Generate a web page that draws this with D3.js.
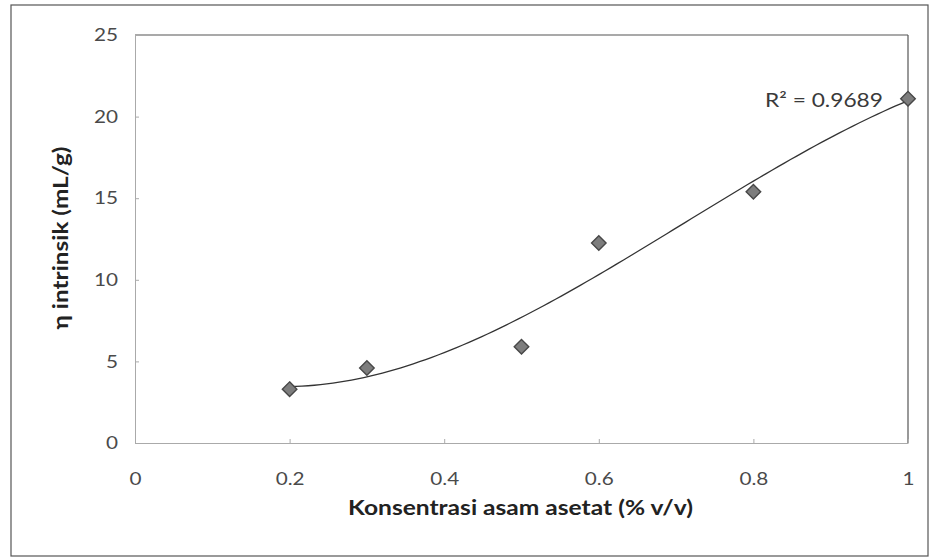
<!DOCTYPE html>
<html>
<head>
<meta charset="utf-8">
<script src="https://cdn.jsdelivr.net/npm/d3@7"></script>
<style>
  html, body { margin: 0; padding: 0; background: #fff; }
  svg { display: block; }
  text { font-family: Lato, "Open Sans", sans-serif; }
</style>
</head>
<body>
<svg id="chart" width="933" height="560"></svg>
<script>
// ---- data ----
const concentrations = [0.2, 0.3, 0.5, 0.6, 0.8, 1.0];
const viscosity = [3.3, 4.6, 5.9, 12.25, 15.4, 21.1];
const xTicks = [0, 0.2, 0.4, 0.6, 0.8, 1];
const xTickLabels = ["0", "0.2", "0.4", "0.6", "0.8", "1"];
const yTicks = [0, 5, 10, 15, 20, 25];
const yTickLabels = ["0", "5", "10", "15", "20", "25"];
const xTitle = "Konsentrasi asam asetat (% v/v)";
const yTitle = "η intrinsik (mL/g)";
const r2Label = "R² = 0.9689";
const trendOrder = 3;

// ---- layout ----
const svg = d3.select("#chart");
const plot = { left: 135, right: 908, top: 35, bottom: 443 };
const hStretch = 1.15; // the reference text is slightly widened horizontally

const x = d3.scaleLinear().domain([0, 1]).range([plot.left, plot.right]);
const y = d3.scaleLinear().domain([0, 25]).range([plot.bottom, plot.top]);

function widen(sel, factor) {
  sel.each(function () {
    const L = this.getComputedTextLength();
    d3.select(this).attr("textLength", L * factor).attr("lengthAdjust", "spacingAndGlyphs");
  });
}

// outer frame
svg.append("rect").attr("x", 11).attr("y", 5).attr("width", 917).attr("height", 551)
  .attr("fill", "#fff").attr("stroke", "#555").attr("stroke-width", 1.2);

// plot area borders
svg.append("line").attr("x1", plot.left).attr("x2", plot.right).attr("y1", plot.top).attr("y2", plot.top)
  .attr("stroke", "#555").attr("stroke-width", 1.2);
svg.append("line").attr("x1", plot.right).attr("x2", plot.right).attr("y1", plot.top).attr("y2", plot.bottom)
  .attr("stroke", "#555").attr("stroke-width", 1.2);

// axes
const xAxis = d3.axisBottom(x).tickValues(xTicks)
  .tickFormat((d, i) => xTickLabels[i]).tickSizeInner(-4).tickSizeOuter(0).tickPadding(29);
const gx = svg.append("g").attr("transform", `translate(0,${plot.bottom})`).call(xAxis);
gx.select(".domain").attr("stroke", "#aaa");
gx.selectAll(".tick line").attr("stroke", "#aaa");
gx.selectAll(".tick text").attr("font-size", 18).attr("fill", "#4a4a4a")
  .style("font-family", "Lato, sans-serif").call(widen, hStretch);

const yAxis = d3.axisLeft(y).tickValues(yTicks)
  .tickFormat((d, i) => yTickLabels[i]).tickSizeInner(-4).tickSizeOuter(0).tickPadding(17);
const gy = svg.append("g").attr("transform", `translate(${plot.left},0)`).call(yAxis);
gy.select(".domain").attr("stroke", "#aaa");
gy.selectAll(".tick line").attr("stroke", "#aaa");
gy.selectAll(".tick text").attr("font-size", 18).attr("fill", "#4a4a4a")
  .style("font-family", "Lato, sans-serif").call(widen, hStretch);

// ---- polynomial trendline (least squares from the data) ----
function polyfit(xs, ys, order) {
  const n = order + 1;
  const A = Array.from({length: n}, () => new Array(n + 1).fill(0));
  for (let r = 0; r < n; r++) {
    for (let c = 0; c < n; c++) A[r][c] = d3.sum(xs, v => Math.pow(v, r + c));
    A[r][n] = d3.sum(xs, (v, i) => ys[i] * Math.pow(v, r));
  }
  for (let i = 0; i < n; i++) {
    let p = i;
    for (let k = i + 1; k < n; k++) if (Math.abs(A[k][i]) > Math.abs(A[p][i])) p = k;
    [A[i], A[p]] = [A[p], A[i]];
    for (let k = i + 1; k < n; k++) {
      const fct = A[k][i] / A[i][i];
      for (let j = i; j <= n; j++) A[k][j] -= fct * A[i][j];
    }
  }
  const coef = new Array(n).fill(0);
  for (let i = n - 1; i >= 0; i--) {
    let s = A[i][n];
    for (let j = i + 1; j < n; j++) s -= A[i][j] * coef[j];
    coef[i] = s / A[i][i];
  }
  return coef;
}
const coef = polyfit(concentrations, viscosity, trendOrder);
const f = v => coef.reduce((s, c, i) => s + c * Math.pow(v, i), 0);
const xMin = d3.min(concentrations), xMax = d3.max(concentrations);
const curvePts = d3.range(0, 101).map(i => xMin + (xMax - xMin) * i / 100).map(v => [v, f(v)]);

svg.append("path").datum(curvePts)
  .attr("fill", "none").attr("stroke", "#333").attr("stroke-width", 1.3)
  .attr("d", d3.line().x(d => x(d[0])).y(d => y(d[1])));

// ---- markers ----
svg.append("g").selectAll("path").data(concentrations).join("path")
  .attr("transform", (d, i) => `translate(${x(d)},${y(viscosity[i])})`)
  .attr("d", d3.symbol().type(d3.symbolDiamond2).size(135))
  .attr("fill", "#7d7d7d").attr("stroke", "#474747").attr("stroke-width", 1.4);

// ---- labels ----
svg.append("text").attr("x", 765).attr("y", 102).attr("text-anchor", "start")
  .attr("dominant-baseline", "middle").attr("font-size", 19).attr("fill", "#3a3a3a")
  .attr("textLength", 118).attr("lengthAdjust", "spacingAndGlyphs")
  .text(r2Label);

svg.append("text").attr("x", (348 + 693) / 2).attr("y", 510)
  .attr("text-anchor", "middle").attr("dominant-baseline", "middle")
  .attr("font-size", 20).attr("font-weight", "bold").attr("fill", "#222")
  .attr("textLength", 345).attr("lengthAdjust", "spacingAndGlyphs")
  .text(xTitle);

svg.append("text").attr("transform", "translate(63,238) rotate(-90)")
  .attr("text-anchor", "middle").attr("dominant-baseline", "middle")
  .attr("font-size", 20).attr("font-weight", "bold").attr("fill", "#222")
  .attr("textLength", 183).attr("lengthAdjust", "spacingAndGlyphs")
  .text(yTitle);
</script>
</body>
</html>
